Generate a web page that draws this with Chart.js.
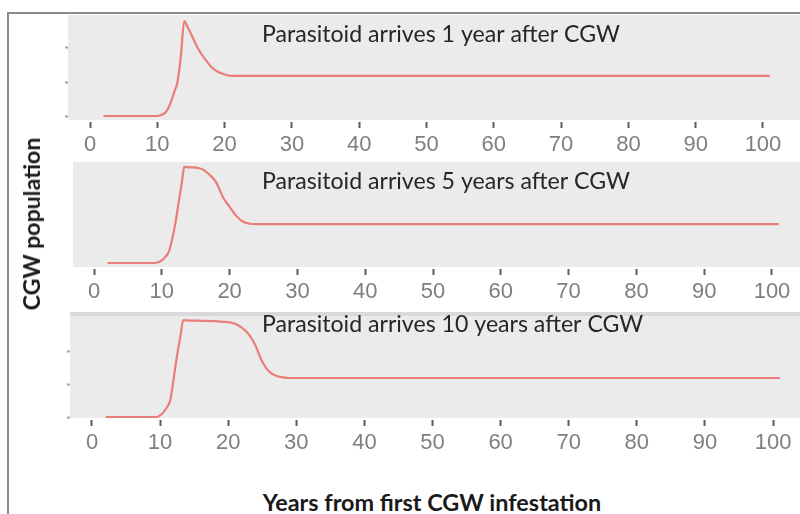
<!DOCTYPE html>
<html>
<head>
<meta charset="utf-8">
<script src="https://cdn.jsdelivr.net/npm/chart.js@4.4.1/dist/chart.umd.min.js"></script>
<style>
  html, body { margin: 0; padding: 0; background: #ffffff; }
  body { width: 800px; height: 514px; position: relative; overflow: hidden; }
  #frame { position: absolute; left: 7px; top: 12px; width: 793px; height: 502px;
           border-left: 2px solid #8a8a8a; border-top: 2px solid #8a8a8a; box-sizing: border-box; }
  canvas { position: absolute; left: 0; }
  #xtitle { position: absolute; left: 0; width: 864px; top: 488px; text-align: center;
            font-family: Lato, "Open Sans", sans-serif; font-weight: bold; color: #1a1a1a; white-space: nowrap; }
  #ytitle { position: absolute; left: 31px; top: 224px; transform: translate(-50%, -50%) rotate(-90deg);
            font-family: Lato, "Open Sans", sans-serif; font-weight: bold; color: #1a1a1a; white-space: nowrap; }
</style>
</head>
<body>
<div id="frame"></div>
<canvas id="c1" width="800" height="147" style="top:15px"></canvas>
<canvas id="c2" width="800" height="147" style="top:162px"></canvas>
<canvas id="c3" width="800" height="148" style="top:312px"></canvas>
<div id="xtitle">Years from first CGW infestation</div>
<div id="ytitle">CGW population</div>
<script>
// ---------------- data ----------------
const xTickLabels = [0, 10, 20, 30, 40, 50, 60, 70, 80, 90, 100];
const yTickValues = [0, 1, 2];

const panelTitles = [
  "Parasitoid arrives 1 year after CGW",
  "Parasitoid arrives 5 years after CGW",
  "Parasitoid arrives 10 years after CGW"
];

// Panel 1: parasitoid arrives 1 year after CGW
const years1 = [2, 10, 10.5, 11, 11.5, 12, 12.5, 13, 13.5, 14, 14.5, 15, 16, 17, 18, 19, 20, 21, 101];
const pop1   = [0, 0, 0.02, 0.07, 0.18, 0.4, 0.7, 1.0, 1.75, 2.79, 2.62, 2.42, 2.0, 1.7, 1.45, 1.3, 1.22, 1.18, 1.18];

// Panel 2: parasitoid arrives 5 years after CGW
const years2 = [2, 9, 10, 10.5, 11, 11.5, 12, 12.5, 13, 13.3, 14, 15, 15.5, 16, 17, 18, 19, 20, 21, 22, 23, 24, 101];
const pop2   = [0, 0, 0.08, 0.18, 0.32, 0.7, 1.2, 1.85, 2.5, 2.91, 2.9, 2.89, 2.87, 2.84, 2.68, 2.45, 2.0, 1.7, 1.42, 1.25, 1.19, 1.18, 1.18];

// Panel 3: parasitoid arrives 10 years after CGW
const years3 = [2, 9.5, 10, 10.5, 11, 11.5, 12, 12.5, 13, 13.4, 14, 16, 18, 19, 20, 21, 22, 23, 24, 25, 26, 27, 28, 29, 101];
const pop3   = [0, 0, 0.05, 0.15, 0.3, 0.52, 1.2, 1.9, 2.5, 2.98, 2.97, 2.96, 2.95, 2.93, 2.92, 2.87, 2.75, 2.55, 2.2, 1.7, 1.4, 1.27, 1.22, 1.2, 1.2];

// ---------------- styling helpers ----------------
const LINE_COLOR = "rgb(235,125,120)";
const PANEL_BG = "#ebebeb";

function fitSize(text, weight, family, target) {
  const c = document.createElement("canvas").getContext("2d");
  c.font = weight + " 100px " + family;
  return 100 * target / c.measureText(text).width;
}
const titleSize = fitSize(panelTitles[0], "normal", "Lato", 358);
document.getElementById("xtitle").style.fontSize = fitSize("Years from first CGW infestation", "bold", "Lato", 339) + "px";
document.getElementById("ytitle").style.fontSize = fitSize("CGW population", "bold", "Lato", 173) + "px";

const panelPlugin = {
  id: "panelDeco",
  beforeDraw(chart, args, opts) {
    const a = chart.chartArea, ctx = chart.ctx;
    ctx.save();
    ctx.fillStyle = PANEL_BG;
    ctx.fillRect(a.left, a.top, a.right - a.left, a.bottom - 2 - a.top);
    if (opts.band) {
      ctx.fillStyle = "#d9d9d9";
      ctx.fillRect(a.left, a.top, a.right - a.left, 4);
    }
    ctx.restore();
  },
  afterDatasetsDraw(chart, args, opts) {
    const a = chart.chartArea, ctx = chart.ctx;
    ctx.save();
    ctx.font = "normal " + titleSize + "px Lato";
    ctx.fillStyle = "#262626";
    ctx.textAlign = "left";
    ctx.textBaseline = "middle";
    ctx.fillText(opts.text, opts.tx, a.top + opts.ty);
    ctx.restore();
  }
};

function makePanel(id, years, pops, title, cfg) {
  new Chart(document.getElementById(id), {
    type: "line",
    data: {
      datasets: [{
        data: years.map((x, i) => ({ x: x, y: pops[i] })),
        borderColor: LINE_COLOR,
        borderWidth: 2.2,
        pointRadius: 0,
        fill: false,
        cubicInterpolationMode: "monotone"
      }]
    },
    options: {
      responsive: false,
      animation: false,
      events: [],
      layout: { padding: { left: cfg.padLeft, right: 0, top: 0, bottom: 0 } },
      plugins: {
        legend: { display: false },
        tooltip: { enabled: false },
        title: { display: false },
        panelDeco: { text: title, tx: 262, ty: cfg.titleY, band: cfg.band }
      },
      scales: {
        x: {
          type: "linear",
          min: cfg.xMin, max: cfg.xMax,
          afterBuildTicks: s => { s.ticks = xTickLabels.map(v => ({ value: v })); },
          afterFit: s => { s.height = 40; },
          grid: { drawOnChartArea: false, drawTicks: true, tickLength: 6, tickWidth: 2, tickColor: "#5a5a5a" },
          border: { display: false },
          ticks: { color: "#7f7f7f", padding: 4, maxRotation: 0, autoSkip: false,
                   font: { family: "'Liberation Sans', Arial, sans-serif", size: 22 } }
        },
        y: {
          type: "linear",
          min: cfg.yMin, max: cfg.yMax,
          afterBuildTicks: s => { s.ticks = yTickValues.map(v => ({ value: v })); },
          afterFit: s => { s.width = 4; },
          grid: { drawOnChartArea: false, drawTicks: cfg.yTicks, tickLength: 3, tickWidth: 2, tickColor: "#a0a0a0" },
          border: { display: false },
          ticks: { display: false }
        }
      }
    },
    plugins: [panelPlugin]
  });
}

makePanel("c1", years1, pop1, panelTitles[0],
  { padLeft: 64, xMin: -3.27, xMax: 105.5, yMin: -0.176, yMax: 2.97, titleY: 20, band: false, yTicks: true });
makePanel("c2", years2, pop2, panelTitles[1],
  { padLeft: 69, xMin: -3.10, xMax: 104.13, yMin: -0.182, yMax: 3.06, titleY: 20, band: false, yTicks: false });
makePanel("c3", years3, pop3, panelTitles[2],
  { padLeft: 66, xMin: -3.23, xMax: 103.96, yMin: -0.092, yMax: 3.23, titleY: 13, band: true, yTicks: true });
</script>
</body>
</html>
